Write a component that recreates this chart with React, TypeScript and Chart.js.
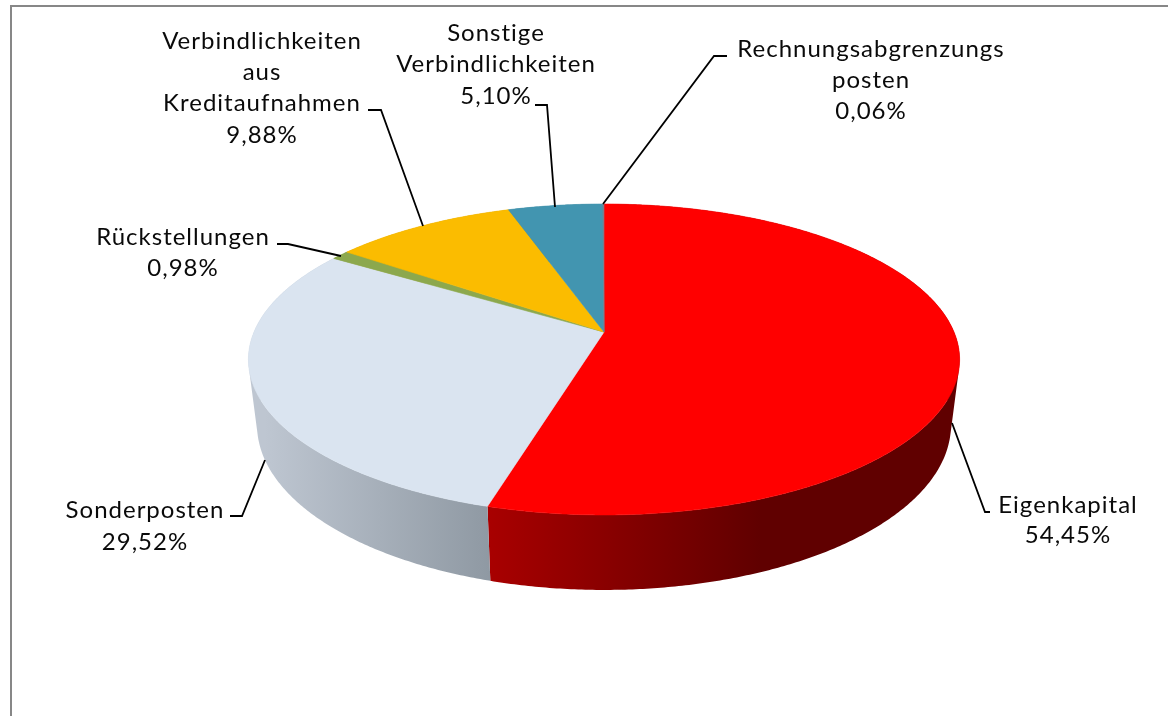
import React, { useEffect, useRef } from "react";
import { Chart, registerables } from "chart.js";

Chart.register(...registerables);

const categories: string[][] = [
  ["Eigenkapital"],
  ["Sonderposten"],
  ["Rückstellungen"],
  ["Verbindlichkeiten", "aus", "Kreditaufnahmen"],
  ["Sonstige", "Verbindlichkeiten"],
  ["Rechnungsabgrenzungs", "posten"],
];
const shares = [54.45, 29.52, 0.98, 9.88, 5.1, 0.06];
const sliceColors = ["#FF0000", "#DAE4F0", "#8CA84D", "#FBBC00", "#4295B0", "#7E7E8C"];

// wall gradient: [left colour, right colour, left x, right x]
const wallShades: [string, string, number, number][] = [
  ["#A80000", "#600000", 490, 760],
  ["#BEC6D1", "#8F99A3", 265, 490],
  ["#6E8540", "#6E8540", 0, 1],
  ["#C49300", "#C49300", 0, 1],
  ["#337488", "#337488", 0, 1],
  ["#666666", "#666666", 0, 1],
];

// label layout: centre x, y of each line's middle
const labelX = [1068, 145, 183, 262, 496, 871];
const labelY = [
  [505, 535],
  [510, 542],
  [237, 268],
  [41, 72, 103, 135],
  [33, 64, 96],
  [49, 80, 111],
];
const leaders: number[][][] = [
  [[990, 512], [985, 512], [952, 423]],
  [[230, 516], [242, 516], [265, 460]],
  [[277, 244], [288, 244], [341, 256]],
  [[368, 110], [381, 110], [423, 226]],
  [[535, 105], [547, 105], [555, 207]],
  [[727, 56], [714, 56], [603, 204]],
];

const PERSPECTIVE = 0.1768;
const TOP_Y = 0.4303;
const BASE_X = 0.9757;
const BASE_Y = 0.4566;
const BASE_DROP = 63.8;
const STEP = Math.PI / 180 / 2;

const formatShare = (v: number) => v.toFixed(2).replace(".", ",") + "%";

function rimPoint(el: any, angle: number, base: boolean): [number, number] {
  const u = Math.cos(angle);
  const v = Math.sin(angle);
  const w = 1 / (1 - PERSPECTIVE * v);
  const R = el.outerRadius;
  if (base) return [el.x + BASE_X * R * u * w, el.y + BASE_DROP + BASE_Y * R * v * w];
  return [el.x + R * u * w, el.y + TOP_Y * R * v * w];
}

function rim(el: any, base: boolean): [number, number][] {
  const pts: [number, number][] = [];
  const n = Math.max(1, Math.ceil((el.endAngle - el.startAngle) / STEP));
  for (let i = 0; i <= n; i++) {
    const t = el.startAngle + ((el.endAngle - el.startAngle) * i) / n;
    pts.push(rimPoint(el, t, base));
  }
  return pts;
}

const pie3d = {
  id: "pie3d",
  beforeDraw(chart: any) {
    const { ctx } = chart;
    ctx.save();
    ctx.fillStyle = "#FFFFFF";
    ctx.fillRect(0, 0, chart.width, chart.height);
    ctx.strokeStyle = "#878787";
    ctx.lineWidth = 2;
    ctx.beginPath();
    ctx.moveTo(11, chart.height);
    ctx.lineTo(11, 6);
    ctx.lineTo(chart.width, 6);
    ctx.stroke();
    ctx.restore();
  },
  beforeDatasetsDraw(chart: any) {
    const { ctx } = chart;
    const arcs = chart.getDatasetMeta(0).data;
    ctx.save();
    // side wall: ruled quads with one orientation, filled as one path (no seams)
    arcs.forEach((el: any, i: number) => {
      const [c0, c1, x0, x1] = wallShades[i];
      const g = ctx.createLinearGradient(x0, 0, x1, 0);
      g.addColorStop(0, c0);
      g.addColorStop(1, c1);
      ctx.fillStyle = g;
      const t = rim(el, false);
      const b = rim(el, true);
      ctx.beginPath();
      for (let k = 0; k < t.length - 1; k++) {
        const q = [t[k], t[k + 1], b[k + 1], b[k]];
        let area = 0;
        q.forEach((p, m) => {
          const r = q[(m + 1) % 4];
          area += p[0] * r[1] - r[0] * p[1];
        });
        if (area < 0) q.reverse();
        q.forEach(([x, y], m) => (m ? ctx.lineTo(x, y) : ctx.moveTo(x, y)));
        ctx.closePath();
      }
      ctx.fill();
    });
    // top face
    arcs.forEach((el: any, i: number) => {
      ctx.fillStyle = sliceColors[i];
      ctx.strokeStyle = sliceColors[i];
      ctx.lineWidth = 0.6;
      ctx.beginPath();
      ctx.moveTo(el.x, el.y);
      rim(el, false).forEach(([x, y]) => ctx.lineTo(x, y));
      ctx.closePath();
      ctx.fill();
      ctx.stroke();
    });
    ctx.restore();
    return false;
  },
  afterDraw(chart: any) {
    const { ctx } = chart;
    ctx.save();
    ctx.strokeStyle = "#000000";
    ctx.lineWidth = 1.8;
    leaders.forEach((pts) => {
      ctx.beginPath();
      pts.forEach(([x, y], k) => (k ? ctx.lineTo(x, y) : ctx.moveTo(x, y)));
      ctx.stroke();
    });
    ctx.fillStyle = "#0A0A0A";
    ctx.font = '24px Lato, "Open Sans", sans-serif';
    ctx.letterSpacing = "1px";
    ctx.textAlign = "center";
    ctx.textBaseline = "middle";
    categories.forEach((lines, i) => {
      const all = [...lines, formatShare(shares[i])];
      all.forEach((t, k) => ctx.fillText(t, labelX[i], labelY[i][k]));
    });
    ctx.restore();
  },
};

export default function App() {
  const ref = useRef<HTMLCanvasElement>(null);
  useEffect(() => {
    const chart = new Chart(ref.current!, {
      type: "pie",
      data: {
        labels: categories.map((c) => c.join(" ")),
        datasets: [{ data: shares, backgroundColor: sliceColors, borderWidth: 0 }],
      },
      options: {
        animation: false,
        responsive: false,
        radius: 350,
        layout: { padding: { left: 40, right: 0, top: 0, bottom: 52 } },
        plugins: { legend: { display: false }, tooltip: { enabled: false } },
      },
      plugins: [pie3d],
    } as any);
    return () => chart.destroy();
  }, []);
  return (
    <canvas
      ref={ref}
      width={1168}
      height={716}
      style={{ position: "absolute", left: 0, top: 0, display: "block" }}
    />
  );
}
